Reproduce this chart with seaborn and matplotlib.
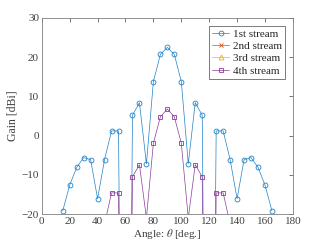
import matplotlib
matplotlib.use("Agg")
import matplotlib.pyplot as plt
import numpy as np
import pandas as pd
import seaborn as sns

angles = list(range(15, 170, 5))

# values below the axis floor are kept as read (very deep nulls)
stream1 = [-19.2, -12.6, -8.1, -5.6, -6.1, -16.1, -6.1, 1.2, 1.2, -200,
           5.2, 8.4, -7.2, 13.8, 20.7, 22.5, 20.7, 13.8, -7.2, 8.4,
           5.2, -200, 1.2, 1.2, -6.1, -16.1, -6.1, -5.6, -8.1, -12.6, -19.2]
stream2 = [-200] * 31
stream3 = [-200] * 31
stream4 = [-200, -200, -200, -200, -200, -200, -22.5, -14.6, -14.6, -200,
           -10.5, -7.4, -21.0, -1.9, 4.8, 6.8, 4.8, -1.9, -21.0, -7.4,
           -10.5, -200, -14.6, -14.6, -22.5, -200, -200, -200, -200, -200, -200]

names = ["1st stream", "2nd stream", "3rd stream", "4th stream"]
colors = ["#1f82c8", "#D95319", "#EDB120", "#8a3d99"]
markers = ["o", "x", "^", "s"]

sns.set_style("white")
plt.rcParams["font.family"] = ["Liberation Serif", "DejaVu Serif"]
plt.rcParams["mathtext.fontset"] = "stix"

fig = plt.figure(figsize=(3.24, 2.43), dpi=100)
ax = fig.add_axes([0.129, 0.119, 0.775, 0.807])

for name, vals, c, m in zip(names, [stream1, stream2, stream3, stream4], colors, markers):
    df = pd.DataFrame({"angle": angles, "gain": vals})
    sns.lineplot(data=df, x="angle", y="gain", ax=ax, color=c, marker=m,
                 markersize=3.5, markerfacecolor="none", markeredgecolor=c,
                 markeredgewidth=0.6, linewidth=0.5, label=name)

ax.set_xlim(0, 180)
ax.set_ylim(-20, 30)
ax.set_xticks(np.arange(0, 181, 20))
ax.set_yticks(np.arange(-20, 31, 10))
ax.set_xlabel(r"Angle: $\theta$ [deg.]", fontsize=8, color="#404040", labelpad=1)
ax.set_ylabel("Gain [dBi]", fontsize=8.5, color="#404040", labelpad=2)
ax.tick_params(direction="in", length=3, width=0.5, labelsize=8,
               colors="#404040", top=True, right=True, pad=2)
for s in ax.spines.values():
    s.set_color("#808080")
    s.set_linewidth(0.6)

leg = ax.legend(loc="upper right", fontsize=8, frameon=True, fancybox=False,
                edgecolor="#404040", borderpad=0.3, labelspacing=0.22,
                handlelength=1.5, handletextpad=0.35, borderaxespad=0.7)
leg.get_frame().set_linewidth(0.6)

fig.savefig("out.png", dpi=100)
